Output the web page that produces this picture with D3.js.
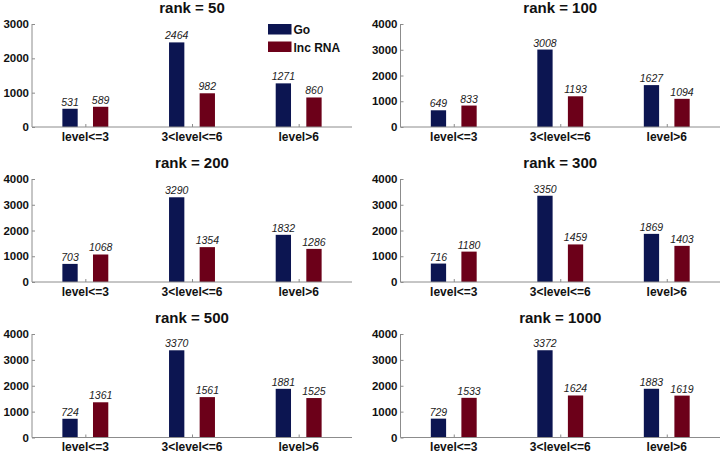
<!DOCTYPE html>
<html>
<head>
<meta charset="utf-8">
<script src="https://cdn.jsdelivr.net/npm/d3@7"></script>
<style>
  html, body { margin: 0; padding: 0; background: #fff; }
  svg { display: block; font-family: "Liberation Sans", Arial, sans-serif; }
</style>
</head>
<body>
<svg id="chart" width="724" height="454"></svg>
<script>
// ---- data ----
const categories = ["level<=3", "3<level<=6", "level>6"];
const ranks = [50, 100, 200, 300, 500, 1000];
const seriesNames = ["Go", "lnc RNA"];
const goValues = [
  [531, 2464, 1271],
  [649, 3008, 1627],
  [703, 3290, 1832],
  [716, 3350, 1869],
  [724, 3370, 1881],
  [729, 3372, 1883]
];
const lncValues = [
  [589, 982, 860],
  [833, 1193, 1094],
  [1068, 1354, 1286],
  [1180, 1459, 1403],
  [1361, 1561, 1525],
  [1533, 1624, 1619]
];
const yMaxes = [3000, 4000, 4000, 4000, 4000, 4000];
const yTickStep = 1000;

// ---- layout ----
const colors = ["#0c1551", "#6c0019"];
const axisColor = "#8c8c8c";
const colX = [[32, 352], [400.5, 720]];
const rowY = [[24, 127], [179, 282], [334, 437.5]];
const barW = 0.1435;   // in category units
const barOff = 0.1435;

const svg = d3.select("#chart");

ranks.forEach((rank, i) => {
  const col = i % 2, row = Math.floor(i / 2);
  const [x0, x1] = colX[col];
  const [yTop, yBase] = rowY[row];
  const x = d3.scaleLinear().domain([0.5, 3.5]).range([x0, x1]);
  const y = d3.scaleLinear().domain([0, yMaxes[i]]).range([yBase, yTop]);
  const g = svg.append("g");

  // title
  g.append("text")
    .attr("x", (x0 + x1) / 2).attr("y", yTop - 11)
    .attr("text-anchor", "middle")
    .attr("font-size", 15).attr("font-weight", "bold").attr("fill", "#111")
    .text("rank = " + rank);

  // bars
  const series = [goValues[i], lncValues[i]];
  series.forEach((vals, s) => {
    const off = s === 0 ? -barOff : barOff;
    g.selectAll(null).data(vals).enter().append("rect")
      .attr("x", (d, k) => x(k + 1 + off - barW / 2))
      .attr("width", (d, k) => x(k + 1 + off + barW / 2) - x(k + 1 + off - barW / 2))
      .attr("y", d => y(d))
      .attr("height", d => y(0) - y(d))
      .attr("fill", colors[s]);
    g.selectAll(null).data(vals).enter().append("text")
      .attr("x", (d, k) => x(k + 1 + off))
      .attr("y", d => y(d) - 3)
      .attr("text-anchor", "middle")
      .attr("font-size", 10.5).attr("font-style", "italic").attr("fill", "#222")
      .text(d => d);
  });

  // y axis
  const yAxis = d3.axisRight(y)
    .tickValues(d3.range(0, yMaxes[i] + 1, yTickStep))
    .tickSize(3).tickFormat("");
  const ya = g.append("g").attr("transform", `translate(${x0},0)`).call(yAxis);
  ya.selectAll("path, line").attr("stroke", axisColor);
  ya.select(".domain").attr("d", `M0,${yTop}V${yBase}`);
  g.selectAll(null).data(d3.range(0, yMaxes[i] + 1, yTickStep)).enter().append("text")
    .attr("x", x0 - 3).attr("y", d => y(d))
    .attr("dy", "0.36em")
    .attr("text-anchor", "end")
    .attr("font-size", 11.5).attr("font-weight", "bold").attr("fill", "#111")
    .text(d => d);

  // x axis
  const xAxis = d3.axisTop(x).tickValues([1, 2, 3]).tickSize(3).tickFormat("");
  const xa = g.append("g").attr("transform", `translate(0,${yBase})`).call(xAxis);
  xa.selectAll("path, line").attr("stroke", axisColor);
  xa.select(".domain").attr("d", `M${x0},0H${x1}`);
  g.selectAll(null).data(categories).enter().append("text")
    .attr("x", (d, k) => x(k + 1)).attr("y", yBase + 13.5)
    .attr("text-anchor", "middle")
    .attr("font-size", 12).attr("font-weight", "bold").attr("fill", "#111")
    .text(d => d);

  // legend on first panel
  if (i === 0) {
    const lg = g.append("g").attr("transform", "translate(268,24)");
    seriesNames.forEach((name, s) => {
      lg.append("rect").attr("x", 0).attr("y", s * 17.5)
        .attr("width", 23.5).attr("height", 10.5).attr("fill", colors[s]);
      lg.append("text").attr("x", 25.5).attr("y", s * 17.5 + 10)
        .attr("font-size", 12).attr("font-weight", "bold").attr("fill", "#111")
        .text(name);
    });
  }
});
</script>
</body>
</html>
